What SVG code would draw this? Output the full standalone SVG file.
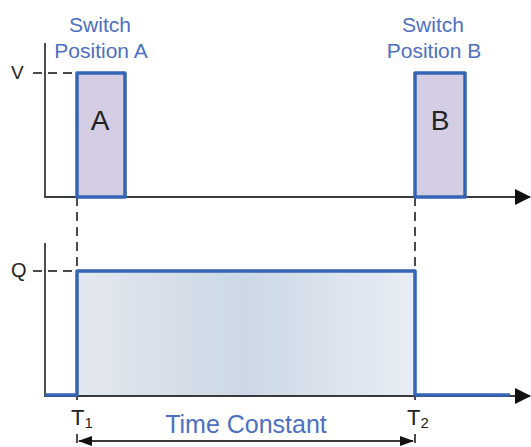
<svg xmlns="http://www.w3.org/2000/svg" width="531" height="447" viewBox="0 0 531 447">
<style>
.ax{stroke:#3a3a3a;stroke-width:1.8;fill:none}
.dash{stroke:#4a4a4a;stroke-width:2;stroke-dasharray:9 6;fill:none}
.pulse{fill:#d4cde3;stroke:#3464b4;stroke-width:3.5;stroke-linejoin:round}
.sig{fill:none;stroke:#3464b4;stroke-width:3.5;stroke-linejoin:round}
.lbl{font-family:"Liberation Sans",Arial,sans-serif;fill:#4d6fc2;font-size:21px;text-anchor:middle}
.dk{font-family:"Liberation Sans",Arial,sans-serif;fill:#222;}
</style>
<defs>
<marker id="ah" viewBox="0 0 16 16" refX="15" refY="8" markerWidth="16" markerHeight="16" markerUnits="userSpaceOnUse" orient="auto">
<path d="M0,0 L16,8 L0,16 Z" fill="#111"/>
</marker>
<marker id="sa" viewBox="0 0 14 10" refX="13" refY="5" markerWidth="14" markerHeight="10" markerUnits="userSpaceOnUse" orient="auto-start-reverse">
<path d="M0,0 L14,5 L0,10 Z" fill="#111"/>
</marker>
<linearGradient id="qg" x1="0" y1="0" x2="1" y2="0">
<stop offset="0" stop-color="#e4e8f0"/>
<stop offset="0.25" stop-color="#d8dfe9"/>
<stop offset="0.5" stop-color="#cbd8e6"/>
<stop offset="0.75" stop-color="#dbe3ed"/>
<stop offset="1" stop-color="#e8edf5"/>
</linearGradient>
</defs>
<g id="connectors">
<line class="dash" x1="33" y1="73" x2="77" y2="73"/>
<line class="dash" x1="33" y1="271" x2="77" y2="271"/>
<line class="dash" x1="77" y1="197" x2="77" y2="400"/>
<line class="dash" x1="415" y1="197" x2="415" y2="400"/>
<line class="dash" x1="77" y1="434" x2="77" y2="447"/>
<line class="dash" x1="415" y1="434" x2="415" y2="447"/>
<line class="ax" x1="79" y1="441" x2="413" y2="441" marker-start="url(#sa)" marker-end="url(#sa)"/>
</g>
<g id="top-chart">
<polyline class="ax" points="45,43 45,197 530,197" marker-end="url(#ah)"/>
</g>
<g id="pulse-a">
<rect class="pulse" x="77" y="73" width="48" height="124"/>
<text class="dk" x="100" y="130" font-size="28" text-anchor="middle">A</text>
</g>
<g id="pulse-b">
<rect class="pulse" x="415" y="73" width="50" height="124"/>
<text class="dk" x="440" y="130" font-size="28" text-anchor="middle">B</text>
</g>
<g id="label-a">
<text class="lbl" x="100" y="32">Switch</text>
<text class="lbl" x="101" y="58">Position A</text>
</g>
<g id="label-b">
<text class="lbl" x="433" y="32">Switch</text>
<text class="lbl" x="434" y="58">Position B</text>
</g>
<g id="v-label"><text class="dk" x="11" y="79" font-size="19">V</text></g>
<g id="bottom-chart">
<rect x="77" y="271" width="338" height="124" fill="url(#qg)"/>
<polyline class="ax" points="45,243 45,396 530,396" marker-end="url(#ah)"/>
<path class="sig" d="M45,395 H77 V271 H415 V395 H510"/>
</g>
<g id="q-label"><text class="dk" x="11" y="277" font-size="20">Q</text></g>
<g id="t1"><text class="dk" x="71" y="425" font-size="22">T<tspan font-size="15" dy="3">1</tspan></text></g>
<g id="t2"><text class="dk" x="407" y="425" font-size="22">T<tspan font-size="15" dy="3">2</tspan></text></g>
<g id="time-constant"><text class="lbl" x="246" y="433" fill="#3f6cc6" style="font-size:25px">Time Constant</text></g>
</svg>
